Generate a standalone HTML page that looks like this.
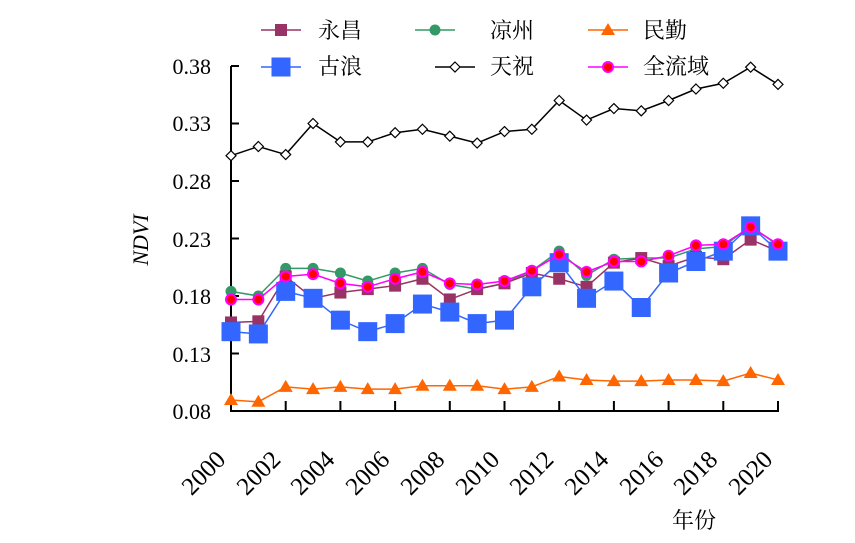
<!DOCTYPE html>
<html><head><meta charset="utf-8"><style>
html,body{margin:0;padding:0;background:#fff;}
svg, svg text{font-family:"Liberation Serif","Times New Roman","Noto Serif CJK SC",serif;}
</style></head><body>
<svg id="s" width="855" height="538" viewBox="0 0 855 538" xmlns="http://www.w3.org/2000/svg" font-family="Liberation Serif, Noto Serif CJK SC, serif">
<g font-size="22" fill="#000" text-anchor="end">
<text x="211" y="74">0.38</text>
<text x="211" y="131">0.33</text>
<text x="211" y="189">0.28</text>
<text x="211" y="247">0.23</text>
<text x="211" y="304">0.18</text>
<text x="211" y="362">0.13</text>
<text x="211" y="419">0.08</text>
</g>
<text transform="translate(148,240) rotate(-90)" font-size="22" font-style="italic" text-anchor="middle">NDVI</text>
<g font-size="25" text-anchor="end">
<text transform="translate(227,461) rotate(-45)">2000</text>
<text transform="translate(282,461) rotate(-45)">2002</text>
<text transform="translate(336,461) rotate(-45)">2004</text>
<text transform="translate(391,461) rotate(-45)">2006</text>
<text transform="translate(446,461) rotate(-45)">2008</text>
<text transform="translate(501,461) rotate(-45)">2010</text>
<text transform="translate(555,461) rotate(-45)">2012</text>
<text transform="translate(610,461) rotate(-45)">2014</text>
<text transform="translate(665,461) rotate(-45)">2016</text>
<text transform="translate(719,461) rotate(-45)">2018</text>
<text transform="translate(774,461) rotate(-45)">2020</text>
</g>
<text x="672" y="528" font-size="22">年份</text>
<g font-size="22">
<text x="318" y="38">永昌</text><text x="490" y="38">凉州</text><text x="643" y="38">民勤</text>
<text x="318" y="74">古浪</text><text x="490" y="74">天祝</text><text x="643" y="74">全流域</text>
</g>
<g id="g"></g>
</svg>
<script>
var NS="http://www.w3.org/2000/svg",g=document.getElementById("g");
function el(t,a){var e=document.createElementNS(NS,t);for(var k in a)e.setAttribute(k,a[k]);g.appendChild(e);return e;}
function X(i){return 231+i*27.35;}
function Y(v){return 411-(v-0.08)*1150;}
el("line",{x1:231,y1:66,x2:231,y2:411,stroke:"#000","stroke-width":2});
el("line",{x1:230,y1:411,x2:779,y2:411,stroke:"#000","stroke-width":2});
[0.38,0.33,0.28,0.23,0.18,0.13].forEach(function(v){el("line",{x1:231,y1:Y(v),x2:239,y2:Y(v),stroke:"#000","stroke-width":2});});
for(var i=2;i<=20;i+=2)el("line",{x1:X(i),y1:411,x2:X(i),y2:401,stroke:"#000","stroke-width":2});
function marker(type,x,y,s){
 if(type=="sq")el("rect",{x:x-s/2,y:y-s/2,width:s,height:s,fill:s>14?"#3366ff":"#993366"});
 else if(type=="ci")el("circle",{cx:x,cy:y,r:s,fill:"#339966"});
 else if(type=="tr")el("polygon",{points:(x)+","+(y-7)+" "+(x-7)+","+(y+5)+" "+(x+7)+","+(y+5),fill:"#ff6600"});
 else if(type=="di")el("polygon",{points:x+","+(y-5)+" "+(x+5)+","+y+" "+x+","+(y+5)+" "+(x-5)+","+y,fill:"#fff",stroke:"#000","stroke-width":1.2});
 else if(type=="rc")el("circle",{cx:x,cy:y,r:5,fill:"#ff0000",stroke:"#ff00ff","stroke-width":2});
}
var S=[
 {c:"#339966",m:"ci",s:5.5,d:[.184,.180,.204,.204,.200,.193,.200,.204,.190,.186,.191,.202,.219,.198,.212,.213,.213,.221,.223,.241,.224],lx:435,ly:30},
 {c:"#993366",m:"sq",s:12,d:[.157,.158,.197,.178,.183,.186,.189,.195,.177,.186,.191,.200,.195,.188,.209,.213,.206,.214,.212,.229,.219],lx:281,ly:30},
 {c:"#3366ff",m:"sq",s:19,d:[.149,.147,.184,.178,.159,.149,.156,.173,.166,.156,.159,.188,.209,.178,.193,.170,.200,.210,.219,.241,.219],lx:281,ly:67},
 {c:"#ff6600",m:"tr",s:0,d:[.0896,.088,.101,.099,.101,.099,.099,.102,.102,.102,.099,.101,.110,.107,.106,.106,.107,.107,.106,.113,.107],lx:608,ly:30},
 {c:"#000",m:"di",s:0,d:[.302,.310,.303,.330,.314,.314,.322,.325,.319,.313,.323,.325,.350,.333,.343,.341,.350,.360,.365,.379,.364],lx:455,ly:67},
 {c:"#ff00ff",m:"rc",s:0,d:[.177,.177,.197,.199,.191,.188,.195,.201,.191,.190,.193,.202,.216,.201,.210,.210,.215,.224,.225,.240,.225],lx:608,ly:67}
];
S.forEach(function(s){
 el("polyline",{points:s.d.map(function(v,i){return X(i)+","+Y(v);}).join(" "),fill:"none",stroke:s.c,"stroke-width":1.5});
 s.d.forEach(function(v,i){marker(s.m,X(i),Y(v),s.s);});
 el("line",{x1:s.lx-20,y1:s.ly,x2:s.lx+20,y2:s.ly,stroke:s.c,"stroke-width":1.5});
 marker(s.m,s.lx,s.ly,s.s);
});
</script>
</body></html>
